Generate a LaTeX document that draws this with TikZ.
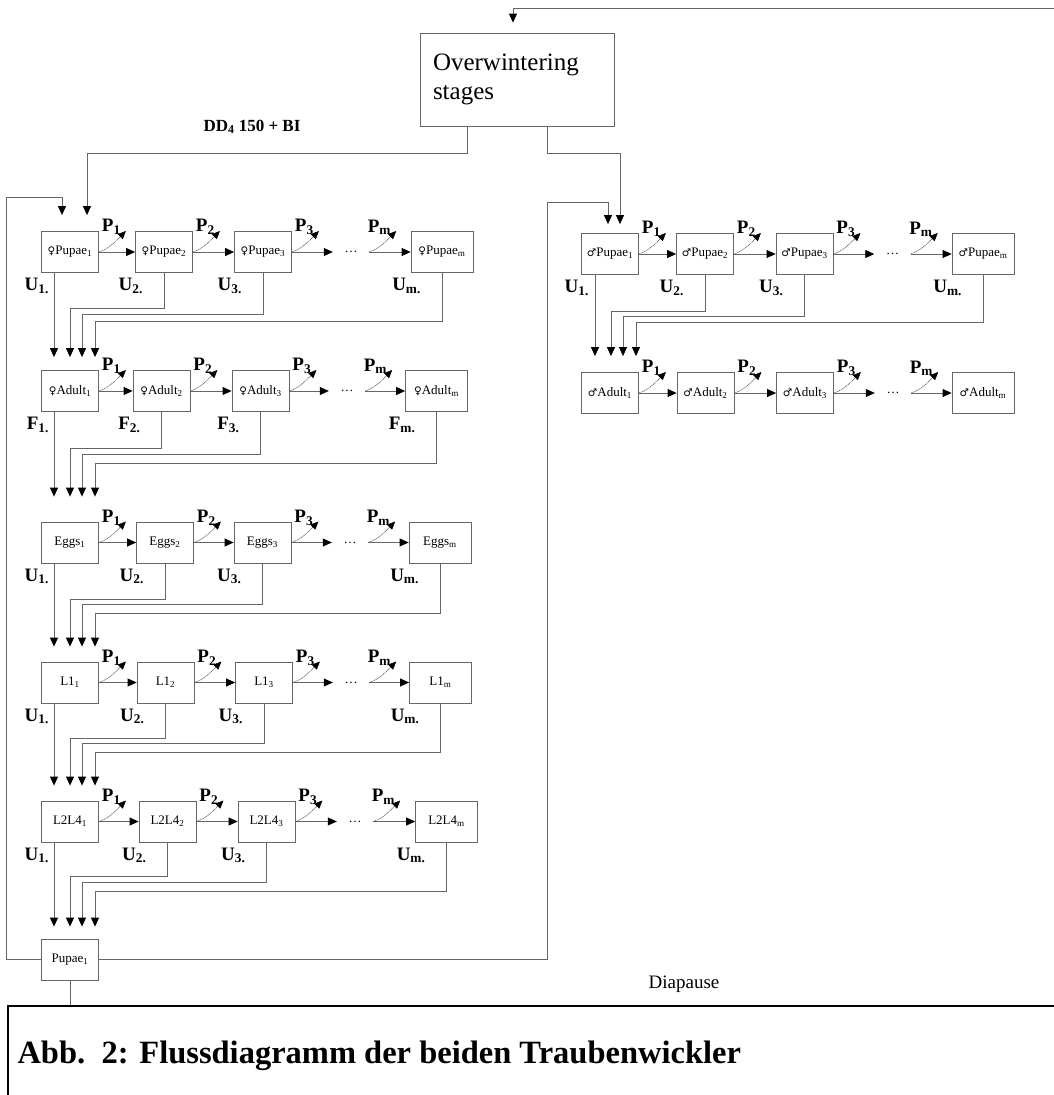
\documentclass[tikz,border=0pt]{standalone}
\usepackage{fontspec}
\setmainfont{Liberation Serif}
\newfontfamily\symfont{DejaVu Sans}
\usetikzlibrary{arrows.meta}

\newcommand{\fsym}{{\symfont\fontsize{10.5}{10.5}\selectfont ♀}}
\newcommand{\msym}{{\symfont\fontsize{10.5}{10.5}\selectfont ♂}}

\tikzset{
  stagebox/.style={draw=black!60, line width=0.8pt, minimum width=57pt, minimum height=41pt, inner sep=1pt, font=\fontsize{13}{13}\selectfont},
  lastbox/.style={stagebox, minimum width=62pt},
  flow/.style={draw=black!60, line width=0.8pt, -{Triangle[length=9pt,width=8pt,color=black]}},
  pcurve/.style={draw=black!70, line width=0.5pt, dash pattern=on 1.2pt off 0.6pt, -{Triangle[length=8pt,width=7pt,color=black]}},
  plab/.style={anchor=south east, inner sep=0pt, xshift=-5pt, yshift=-4pt, font=\fontsize{19}{19}\selectfont\bfseries},
  ulab/.style={inner sep=0pt, yshift=-5pt, font=\fontsize{19}{19}\selectfont\bfseries},
  gapdots/.style={minimum width=36pt, inner sep=0pt, font=\fontsize{13}{13}\selectfont},
}

\begin{document}
\begin{tikzpicture}[x=1pt,y=-1pt]
\useasboundingbox (0,0) rectangle (1054,1095);

\node[draw=black!60, line width=0.8pt, minimum height=93pt, text width=168pt, inner xsep=13pt, align=left, font=\fontsize{25}{29}\selectfont] (over) at (517,79.5) {Overwintering\\stages};
\node[font=\fontsize{17}{17}\selectfont\bfseries] (ddlab) at (252,127) {DD\textsubscript{4} 150 + BI};

% female pupae
\node[stagebox, label={[ulab]below left:U\textsubscript{1.}}] (fp1) at (70,252) {\fsym Pupae\textsubscript{1}};
\node[stagebox, label={[ulab]below left:U\textsubscript{2.}}] (fp2) at (164,252) {\fsym Pupae\textsubscript{2}};
\node[stagebox, label={[ulab]below left:U\textsubscript{3.}}] (fp3) at (263,252) {\fsym Pupae\textsubscript{3}};
\node[gapdots] (fpd) at (351,252) {\textellipsis};
\node[lastbox, label={[ulab]below left:U\textsubscript{m.}}] (fpm) at (442,252) {\fsym Pupae\textsubscript{m}};

% female adults
\node[stagebox, label={[ulab]below left:F\textsubscript{1.}}] (fa1) at (70,391) {\fsym Adult\textsubscript{1}};
\node[stagebox, label={[ulab]below left:F\textsubscript{2.}}] (fa2) at (161.5,391) {\fsym Adult\textsubscript{2}};
\node[stagebox, label={[ulab]below left:F\textsubscript{3.}}] (fa3) at (260.5,391) {\fsym Adult\textsubscript{3}};
\node[gapdots] (fad) at (347,391) {\textellipsis};
\node[lastbox, label={[ulab]below left:F\textsubscript{m.}}] (fam) at (436.5,391) {\fsym Adult\textsubscript{m}};

% eggs
\node[stagebox, label={[ulab]below left:U\textsubscript{1.}}] (eg1) at (70,542.5) {Eggs\textsubscript{1}};
\node[stagebox, label={[ulab]below left:U\textsubscript{2.}}] (eg2) at (165,542.5) {Eggs\textsubscript{2}};
\node[stagebox, label={[ulab]below left:U\textsubscript{3.}}] (eg3) at (262.5,542.5) {Eggs\textsubscript{3}};
\node[gapdots] (egd) at (350,542.5) {\textellipsis};
\node[lastbox, label={[ulab]below left:U\textsubscript{m.}}] (egm) at (440,542.5) {Eggs\textsubscript{m}};

% L1
\node[stagebox, label={[ulab]below left:U\textsubscript{1.}}] (la1) at (70,682.5) {L1\textsubscript{1}};
\node[stagebox, label={[ulab]below left:U\textsubscript{2.}}] (la2) at (165.5,682.5) {L1\textsubscript{2}};
\node[stagebox, label={[ulab]below left:U\textsubscript{3.}}] (la3) at (264,682.5) {L1\textsubscript{3}};
\node[gapdots] (lad) at (351,682.5) {\textellipsis};
\node[lastbox, label={[ulab]below left:U\textsubscript{m.}}] (lam) at (440.5,682.5) {L1\textsubscript{m}};

% L2-L4
\node[stagebox, label={[ulab]below left:U\textsubscript{1.}}] (lb1) at (70,821.5) {L2L4\textsubscript{1}};
\node[stagebox, label={[ulab]below left:U\textsubscript{2.}}] (lb2) at (167.5,821.5) {L2L4\textsubscript{2}};
\node[stagebox, label={[ulab]below left:U\textsubscript{3.}}] (lb3) at (266.5,821.5) {L2L4\textsubscript{3}};
\node[gapdots] (lbd) at (355,821.5) {\textellipsis};
\node[lastbox, label={[ulab]below left:U\textsubscript{m.}}] (lbm) at (446.5,821.5) {L2L4\textsubscript{m}};

\node[stagebox] (pup) at (70,959.5) {Pupae\textsubscript{1}};

% male pupae
\node[stagebox, label={[ulab]below left:U\textsubscript{1.}}] (mp1) at (610,254) {\msym Pupae\textsubscript{1}};
\node[stagebox, label={[ulab]below left:U\textsubscript{2.}}] (mp2) at (705,254) {\msym Pupae\textsubscript{2}};
\node[stagebox, label={[ulab]below left:U\textsubscript{3.}}] (mp3) at (804.5,254) {\msym Pupae\textsubscript{3}};
\node[gapdots] (mpd) at (892.5,254) {\textellipsis};
\node[lastbox, label={[ulab]below left:U\textsubscript{m.}}] (mpm) at (983,254) {\msym Pupae\textsubscript{m}};

% male adults
\node[stagebox] (ma1) at (610,393) {\msym Adult\textsubscript{1}};
\node[stagebox] (ma2) at (705.5,393) {\msym Adult\textsubscript{2}};
\node[stagebox] (ma3) at (805,393) {\msym Adult\textsubscript{3}};
\node[gapdots] (mad) at (893,393) {\textellipsis};
\node[lastbox] (mam) at (983,393) {\msym Adult\textsubscript{m}};

% transitions within a row
\draw[flow] (fp1) -- (fp2); \draw[flow] (fp2) -- (fp3); \draw[flow] (fp3) -- (fpd); \draw[flow] (fpd) -- (fpm);
\draw[flow] (fa1) -- (fa2); \draw[flow] (fa2) -- (fa3); \draw[flow] (fa3) -- (fad); \draw[flow] (fad) -- (fam);
\draw[flow] (eg1) -- (eg2); \draw[flow] (eg2) -- (eg3); \draw[flow] (eg3) -- (egd); \draw[flow] (egd) -- (egm);
\draw[flow] (la1) -- (la2); \draw[flow] (la2) -- (la3); \draw[flow] (la3) -- (lad); \draw[flow] (lad) -- (lam);
\draw[flow] (lb1) -- (lb2); \draw[flow] (lb2) -- (lb3); \draw[flow] (lb3) -- (lbd); \draw[flow] (lbd) -- (lbm);
\draw[flow] (mp1) -- (mp2); \draw[flow] (mp2) -- (mp3); \draw[flow] (mp3) -- (mpd); \draw[flow] (mpd) -- (mpm);
\draw[flow] (ma1) -- (ma2); \draw[flow] (ma2) -- (ma3); \draw[flow] (ma3) -- (mad); \draw[flow] (mad) -- (mam);

% P curves
\draw[pcurve] (fp1.east) .. controls +(10,-3) and +(-9,9) .. +(27,-21) node[plab] {P\textsubscript{1}};
\draw[pcurve] (fp2.east) .. controls +(10,-3) and +(-9,9) .. +(27,-21) node[plab] {P\textsubscript{2}};
\draw[pcurve] (fp3.east) .. controls +(10,-3) and +(-9,9) .. +(27,-21) node[plab] {P\textsubscript{3}};
\draw[pcurve] (fpd.east) .. controls +(10,-3) and +(-9,9) .. +(27,-21) node[plab] {P\textsubscript{m}};
\draw[pcurve] (fa1.east) .. controls +(10,-3) and +(-9,9) .. +(27,-21) node[plab] {P\textsubscript{1}};
\draw[pcurve] (fa2.east) .. controls +(10,-3) and +(-9,9) .. +(27,-21) node[plab] {P\textsubscript{2}};
\draw[pcurve] (fa3.east) .. controls +(10,-3) and +(-9,9) .. +(27,-21) node[plab] {P\textsubscript{3}};
\draw[pcurve] (fad.east) .. controls +(10,-3) and +(-9,9) .. +(27,-21) node[plab] {P\textsubscript{m}};
\draw[pcurve] (eg1.east) .. controls +(10,-3) and +(-9,9) .. +(27,-21) node[plab] {P\textsubscript{1}};
\draw[pcurve] (eg2.east) .. controls +(10,-3) and +(-9,9) .. +(27,-21) node[plab] {P\textsubscript{2}};
\draw[pcurve] (eg3.east) .. controls +(10,-3) and +(-9,9) .. +(27,-21) node[plab] {P\textsubscript{3}};
\draw[pcurve] (egd.east) .. controls +(10,-3) and +(-9,9) .. +(27,-21) node[plab] {P\textsubscript{m}};
\draw[pcurve] (la1.east) .. controls +(10,-3) and +(-9,9) .. +(27,-21) node[plab] {P\textsubscript{1}};
\draw[pcurve] (la2.east) .. controls +(10,-3) and +(-9,9) .. +(27,-21) node[plab] {P\textsubscript{2}};
\draw[pcurve] (la3.east) .. controls +(10,-3) and +(-9,9) .. +(27,-21) node[plab] {P\textsubscript{3}};
\draw[pcurve] (lad.east) .. controls +(10,-3) and +(-9,9) .. +(27,-21) node[plab] {P\textsubscript{m}};
\draw[pcurve] (lb1.east) .. controls +(10,-3) and +(-9,9) .. +(27,-21) node[plab] {P\textsubscript{1}};
\draw[pcurve] (lb2.east) .. controls +(10,-3) and +(-9,9) .. +(27,-21) node[plab] {P\textsubscript{2}};
\draw[pcurve] (lb3.east) .. controls +(10,-3) and +(-9,9) .. +(27,-21) node[plab] {P\textsubscript{3}};
\draw[pcurve] (lbd.east) .. controls +(10,-3) and +(-9,9) .. +(27,-21) node[plab] {P\textsubscript{m}};
\draw[pcurve] (mp1.east) .. controls +(10,-3) and +(-9,9) .. +(27,-21) node[plab] {P\textsubscript{1}};
\draw[pcurve] (mp2.east) .. controls +(10,-3) and +(-9,9) .. +(27,-21) node[plab] {P\textsubscript{2}};
\draw[pcurve] (mp3.east) .. controls +(10,-3) and +(-9,9) .. +(27,-21) node[plab] {P\textsubscript{3}};
\draw[pcurve] (mpd.east) .. controls +(10,-3) and +(-9,9) .. +(27,-21) node[plab] {P\textsubscript{m}};
\draw[pcurve] (ma1.east) .. controls +(10,-3) and +(-9,9) .. +(27,-21) node[plab] {P\textsubscript{1}};
\draw[pcurve] (ma2.east) .. controls +(10,-3) and +(-9,9) .. +(27,-21) node[plab] {P\textsubscript{2}};
\draw[pcurve] (ma3.east) .. controls +(10,-3) and +(-9,9) .. +(27,-21) node[plab] {P\textsubscript{3}};
\draw[pcurve] (mad.east) .. controls +(10,-3) and +(-9,9) .. +(27,-21) node[plab] {P\textsubscript{m}};

% pupae -> adults
\draw[flow, shorten >=13pt] ([xshift=-16pt]fp1.south) -- ([xshift=-16pt]fa1.north);
\draw[flow, shorten >=13pt] (fp2.south) -- ++(0,35) -| (fa1.north);
\draw[flow, shorten >=13pt] (fp3.south) -- ++(0,41) -| ([xshift=12pt]fa1.north);
\draw[flow, shorten >=13pt] (fpm.south) -- ++(0,48) -| ([xshift=25pt]fa1.north);

% adults -> eggs
\draw[flow, shorten >=25pt] ([xshift=-16pt]fa1.south) -- ([xshift=-16pt]eg1.north);
\draw[flow, shorten >=25pt] (fa2.south) -- ++(0,36) -| (eg1.north);
\draw[flow, shorten >=25pt] (fa3.south) -- ++(0,42) -| ([xshift=12pt]eg1.north);
\draw[flow, shorten >=25pt] (fam.south) -- ++(0,51) -| ([xshift=25pt]eg1.north);

% eggs -> L1
\draw[flow, shorten >=15pt] ([xshift=-16pt]eg1.south) -- ([xshift=-16pt]la1.north);
\draw[flow, shorten >=15pt] (eg2.south) -- ++(0,36) -| (la1.north);
\draw[flow, shorten >=15pt] (eg3.south) -- ++(0,41) -| ([xshift=12pt]la1.north);
\draw[flow, shorten >=15pt] (egm.south) -- ++(0,50) -| ([xshift=25pt]la1.north);

% L1 -> L2L4
\draw[flow, shorten >=15pt] ([xshift=-16pt]la1.south) -- ([xshift=-16pt]lb1.north);
\draw[flow, shorten >=15pt] (la2.south) -- ++(0,35) -| (lb1.north);
\draw[flow, shorten >=15pt] (la3.south) -- ++(0,40) -| ([xshift=12pt]lb1.north);
\draw[flow, shorten >=15pt] (lam.south) -- ++(0,49) -| ([xshift=25pt]lb1.north);

% L2L4 -> pupae
\draw[flow, shorten >=12pt] ([xshift=-16pt]lb1.south) -- ([xshift=-16pt]pup.north);
\draw[flow, shorten >=12pt] (lb2.south) -- ++(0,34) -| (pup.north);
\draw[flow, shorten >=12pt] (lb3.south) -- ++(0,40) -| ([xshift=12pt]pup.north);
\draw[flow, shorten >=12pt] (lbm.south) -- ++(0,49) -| ([xshift=25pt]pup.north);

% male pupae -> male adults
\draw[flow, shorten >=16pt] ([xshift=-15pt]mp1.south) -- ([xshift=-15pt]ma1.north);
\draw[flow, shorten >=16pt] (mp2.south) -- ++(0,36) -| ([xshift=1pt]ma1.north);
\draw[flow, shorten >=16pt] (mp3.south) -- ++(0,41) -| ([xshift=13pt]ma1.north);
\draw[flow, shorten >=16pt] (mpm.south) -- ++(0,47) -| ([xshift=26pt]ma1.north);

% overwintering and loops
\draw[flow, shorten >=16pt] ([xshift=-50pt]over.south) -- ++(0,27) -| ([xshift=17pt]fp1.north);
\draw[flow, shorten >=9pt] ([xshift=30pt]over.south) -- ++(0,27) -| ([xshift=10pt]mp1.north);
\draw[flow, shorten >=16pt] (pup.west) -- ++(-35,0) |- ([xshift=-8pt,yshift=34pt]fp1.north) -- ([xshift=-8pt]fp1.north);
\draw[flow, shorten >=9pt] (pup.east) -| ([xshift=-63pt,yshift=31pt]mp1.north) -- ([xshift=-2pt,yshift=31pt]mp1.north) -- ([xshift=-2pt]mp1.north);
\draw[flow, shorten >=10pt] (pup.south) |- (1060,1006) |- ([xshift=-4pt,yshift=24pt]over.north) -- ([xshift=-4pt]over.north);
\node[font=\fontsize{19}{19}\selectfont] (diap) at (684,984) {Diapause};

% caption
\draw[line width=1.6pt] (8,1110) |- (1070,1006);
\node[anchor=base west, font=\fontsize{32.5}{32.5}\selectfont\bfseries] (caption) at (14,1063) {Abb.\ \ 2: Flussdiagramm der beiden Traubenwickler};
\end{tikzpicture}
\end{document}
